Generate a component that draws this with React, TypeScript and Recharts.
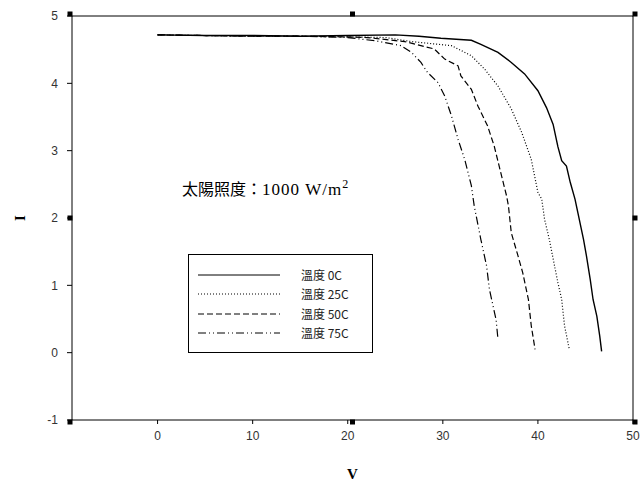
import React from 'react';
import { LineChart, Line, XAxis, YAxis, ReferenceLine, ReferenceDot } from 'recharts';

// Data (V in volts, I in amperes)
const v0C = [0, 5, 10, 15, 20, 25, 27.5, 29.8, 33, 34, 35.8, 37.2, 38.6, 40.0, 40.9, 41.6, 42.1, 42.5, 43.0, 43.4, 43.9, 44.2, 44.8, 45.1, 45.5, 45.8, 46.2, 46.5, 46.7];
const i0C = [4.72, 4.71, 4.71, 4.7, 4.71, 4.72, 4.7, 4.67, 4.64, 4.58, 4.46, 4.31, 4.14, 3.89, 3.64, 3.39, 3.06, 2.85, 2.77, 2.53, 2.28, 2.08, 1.68, 1.44, 1.09, 0.79, 0.54, 0.25, 0.02];

const v25C = [0, 5, 10, 15, 20, 24, 26.7, 30.9, 33, 34.4, 35.8, 37.2, 38.3, 39.3, 40.0, 40.4, 40.7, 41.2, 42.1, 42.5, 42.8, 43.3];
const i25C = [4.72, 4.71, 4.7, 4.7, 4.69, 4.68, 4.62, 4.56, 4.41, 4.21, 3.96, 3.62, 3.27, 2.87, 2.38, 2.28, 1.98, 1.68, 1.04, 0.79, 0.4, 0.05];

const v50C = [0, 5, 10, 15, 20, 22, 26, 29.1, 30.2, 31.6, 31.9, 33, 33.7, 34.7, 35.4, 36.1, 36.7, 36.9, 37.2, 37.9, 38.4, 39.0, 39.3, 39.7];
const i50C = [4.72, 4.71, 4.7, 4.7, 4.69, 4.68, 4.62, 4.51, 4.36, 4.26, 4.11, 3.91, 3.66, 3.37, 3.07, 2.67, 2.33, 2.18, 1.78, 1.44, 1.19, 0.79, 0.4, 0.05];

const v75C = [0, 5, 10, 15, 20, 23, 25.6, 26.7, 27.7, 28.4, 29.5, 30.2, 30.9, 31.6, 32.3, 33.0, 33.3, 34.0, 34.6, 34.9, 35.6, 35.8];
const i75C = [4.72, 4.71, 4.7, 4.7, 4.68, 4.63, 4.56, 4.46, 4.31, 4.16, 4.01, 3.81, 3.52, 3.17, 2.87, 2.48, 2.18, 1.68, 1.29, 0.94, 0.49, 0.2];

const xTicks = [0, 10, 20, 30, 40, 50];
const yTicks = [-1, 0, 1, 2, 3, 4, 5];
const seriesNames = ['溫度 0C', '溫度 25C', '溫度 50C', '溫度 75C'];
const dashes = ['', '1 2', '6 3', '8 3 1 3 1 3'];
const annotation = '太陽照度：1000 W/m';

const toRows = (vs: number[], is: number[]) => vs.map((v, k) => ({ v, i: is[k] }));
const seriesData = [toRows(v0C, i0C), toRows(v25C, i25C), toRows(v50C, i50C), toRows(v75C, i75C)];

const cornerMarks = [
  { x: -9, y: 5, dx: -2, dy: -2 },
  { x: 50, y: 5, dx: 2, dy: -2 },
  { x: -9, y: -1, dx: -2, dy: 2 },
  { x: 50, y: -1, dx: 2, dy: 2 },
  { x: 20.5, y: 5, dx: 0, dy: -2 },
  { x: 20.5, y: -1, dx: 0, dy: 2 },
  { x: -9, y: 2, dx: -2, dy: 0 },
  { x: 50, y: 2, dx: 2, dy: 0 },
];

const SquareMark = (dx: number, dy: number) => (props: any) => (
  <rect x={props.cx - 2.5 + dx} y={props.cy - 2.5 + dy} width={5} height={5} fill="#000" />
);

const tickStyle = { fill: '#333', fontSize: 12, fontFamily: '"Liberation Sans", Arial, sans-serif' };

const LegendBox = () => (
  <div
    style={{
      position: 'absolute',
      left: 188,
      top: 254,
      width: 183,
      height: 87,
      border: '1px solid #000',
      background: '#fff',
      paddingTop: 10,
      fontFamily: '"Noto Sans CJK TC", "Liberation Sans", Arial, sans-serif',
      fontSize: 12,
      color: '#222',
    }}
  >
    {seriesNames.map((n, k) => (
      <div key={n} style={{ display: 'flex', alignItems: 'center', height: 19.5 }}>
        <svg width={92} height={10} style={{ marginLeft: 9 }}>
          <line x1={0} y1={5} x2={82} y2={5} stroke="#000" strokeWidth={1} strokeDasharray={dashes[k] || undefined} />
        </svg>
        <span style={{ marginLeft: 11, lineHeight: '14px' }}>{n}</span>
      </div>
    ))}
  </div>
);

export default function App() {
  return (
    <div style={{ position: 'absolute', left: 0, top: 0, width: 641, height: 488, background: '#fff' }}>
      <LineChart width={641} height={488} margin={{ top: 16, right: 8, left: 22, bottom: 28 }}>
        <XAxis
          type="number"
          dataKey="v"
          domain={[-9, 50]}
          ticks={xTicks}
          allowDataOverflow
          stroke="#000"
          tickSize={4}
          tickMargin={7}
          tick={tickStyle}
          height={40}
          label={{
            value: 'V',
            position: 'insideBottom',
            offset: -19,
            style: { fontFamily: '"Liberation Serif", serif', fontWeight: 'bold', fontSize: 15, fill: '#000' },
          }}
        />
        <YAxis
          type="number"
          dataKey="i"
          domain={[-1, 5]}
          ticks={yTicks}
          allowDataOverflow
          stroke="#000"
          tickSize={5}
          tickMargin={9}
          tick={tickStyle}
          width={50}
          label={{
            value: 'I',
            angle: -90,
            position: 'insideLeft',
            offset: -2,
            style: { fontFamily: '"Liberation Serif", serif', fontWeight: 'bold', fontSize: 15, fill: '#000', textAnchor: 'middle' },
          }}
        />
        <ReferenceLine y={5} stroke="#000" />
        <ReferenceLine x={50} stroke="#000" />
        {seriesData.map((d, k) => (
          <Line
            key={seriesNames[k]}
            data={d}
            dataKey="i"
            name={seriesNames[k]}
            type="linear"
            stroke="#000"
            strokeWidth={k === 0 ? 1.4 : 1.2}
            strokeDasharray={dashes[k] || undefined}
            dot={false}
            isAnimationActive={false}
          />
        ))}
        {cornerMarks.map((m, k) => (
          <ReferenceDot key={k} x={m.x} y={m.y} r={3} shape={SquareMark(m.dx, m.dy)} ifOverflow="visible" />
        ))}
      </LineChart>
      <LegendBox />
      <div
        style={{
          position: 'absolute',
          left: 182,
          top: 176,
          fontFamily: '"Liberation Serif", "Noto Sans CJK TC", serif',
          fontSize: 17,
          color: '#000',
          whiteSpace: 'nowrap',
        }}
      >
        <span style={{ fontFamily: '"Noto Sans CJK TC", sans-serif', fontSize: 16 }}>{annotation.slice(0, 5)}</span>
        <span style={{ letterSpacing: 1 }}>{annotation.slice(5)}</span>
        <sup style={{ fontSize: 12 }}>2</sup>
      </div>
    </div>
  );
}
